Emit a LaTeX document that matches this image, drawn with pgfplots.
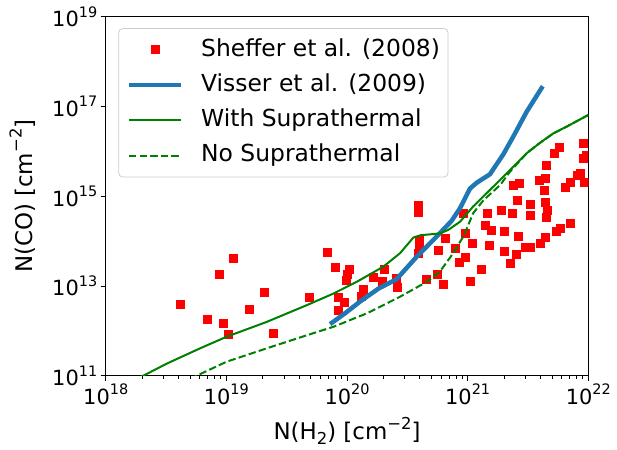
\documentclass[border=0pt]{standalone}
\usepackage{fontspec}
\setmainfont{DejaVu Sans}
\usepackage{pgfplots}
\pgfplotsset{compat=1.18}
\definecolor{mplblue}{HTML}{1F77B4}
\definecolor{mplgreen}{HTML}{008000}
\newcommand\tsup[1]{\raisebox{0.45em}{\fontsize{14.5}{15}\selectfont #1}}
\newcommand\lsup[1]{\raisebox{0.45em}{\fontsize{16.5}{17}\selectfont #1}}
\newcommand\lsub[1]{\raisebox{-0.2em}{\fontsize{16.5}{17}\selectfont #1}}
\pgfplotsset{
  lineleg/.style={legend image code/.code={\draw[##1] (0bp,0bp) -- (52bp,0bp);}},
  markleg/.style={legend image code/.code={\path (0bp,0bp) (52bp,0bp); \draw[##1, sharp corners] plot coordinates {(26bp,0bp)};}},
}
\begin{document}
\begin{tikzpicture}
\begin{axis}[
  name=ax,
  xmode=log, ymode=log,
  scale only axis, width=482.6bp, height=359bp,
  xmin=1e18, xmax=1e22, ymin=1e11, ymax=1e19,
  xtick={1e18,1e19,1e20,1e21,1e22},
  xticklabels={10\tsup{18},10\tsup{19},10\tsup{20},10\tsup{21},10\tsup{22}},
  minor xtick={2e18,3e18,4e18,5e18,6e18,7e18,8e18,9e18,
               2e19,3e19,4e19,5e19,6e19,7e19,8e19,9e19,
               2e20,3e20,4e20,5e20,6e20,7e20,8e20,9e20,
               2e21,3e21,4e21,5e21,6e21,7e21,8e21,9e21},
  ytick={1e11,1e13,1e15,1e17,1e19},
  yticklabels={10\tsup{11},10\tsup{13},10\tsup{15},10\tsup{17},10\tsup{19}},
  yminorticks=false,
  tick align=outside, tick pos=left,
  major tick length=5bp, minor tick length=3bp,
  every tick/.style={black, line width=0.8bp},
  axis line style={line width=0.9bp},
  ticklabel style={font=\fontsize{21}{25}\selectfont},
  label style={font=\fontsize{23}{27}\selectfont},
  xlabel={N(H\lsub{2}) [cm\lsup{−2}]},
  ylabel={N(CO) [cm\lsup{−2}]},
  xlabel style={at={(axis description cs:0.5,0)}, anchor=base, yshift=-64.3bp},
  ylabel style={at={(axis description cs:-0.1527,0.5)}, anchor=base},
  clip marker paths=true,
  legend cell align=left,
  legend style={
    at={(axis description cs:0.026,0.968)}, anchor=north west,
    draw=black!20, line width=0.8bp, rounded corners=4bp, fill=white,
    font=\fontsize{23.5}{28}\selectfont,
    inner xsep=8bp, inner ysep=10bp,
    nodes={inner sep=0bp, text height=17.5bp, text depth=5bp},
    row sep=12.8bp, column sep=18bp,
  },
]
\addplot[only marks, mark=square*, mark size=4bp, color=red, mark options={sharp corners}, markleg]
coordinates {
(4.16e18,3.89e12) (6.97e18,1.82e12) (8.75e18,1.82e13) (9.44e18,1.51e12)
(1.03e19,8.3e11) (1.14e19,4.07e13) (1.55e19,3.02e12) (2.04e19,7.24e12)
(2.45e19,8.7e11) (4.9e19,5.75e12) (6.87e19,5.75e13) (8.0e19,2.57e13)
(8.53e19,5.75e12) (9.55e19,4.27e12) (8.37e19,2.88e12) (1.01e20,1.82e13)
(1.05e20,2.34e13) (9.77e19,1.35e13) (1.35e20,8.5e12) (1.32e20,6.0e12)
(1.66e20,1.58e13) (2.04e20,2.34e13) (1.95e20,1.29e13) (2.57e20,1.48e13)
(2.63e20,9.3e12) (3.89e20,6.3e14) (3.89e20,4.47e14) (3.98e20,1.05e14)
(3.98e20,6.9e13) (3.89e20,5.4e13) (4.57e20,1.41e13) (5.75e20,6.3e13)
(5.62e20,1.82e13) (6.3e20,1.1e13) (6.46e20,1.15e14) (7.94e20,6.9e13)
(8.5e20,3.39e13) (9.1e20,4.17e14) (9.55e20,1.48e14) (9.55e20,4.47e13)
(1.05e21,1.29e13) (1.1e21,8.9e13) (1.29e21,2.34e13) (1.45e21,4.17e14)
(1.41e21,2.29e14) (1.51e21,8.1e13) (1.58e21,1.74e14) (1.91e21,4.9e14)
(2.0e21,1.7e14) (2.0e21,6.0e13) (2.24e21,3.16e13) (2.34e21,4.17e14)
(2.51e21,5.0e13) (2.57e21,8.1e14) (2.63e21,1.26e14) (2.4e21,1.78e15)
(2.69e21,1.95e15) (3.02e21,7.2e13) (3.31e21,6.6e14) (3.31e21,3.8e14)
(3.31e21,7.4e13) (3.98e21,8.9e13) (3.89e21,2.29e15) (4.27e21,1.38e15)
(4.37e21,2.51e15) (4.47e21,4.8e15) (4.37e21,7.4e14) (4.57e21,4.9e14)
(4.47e21,3.47e14) (4.37e21,1.2e14) (5.37e21,1.62e14) (5.89e21,1.9e14)
(5.25e21,9.3e15) (5.75e21,1.26e16) (6.46e21,1.55e15) (7.08e21,2.0e15)
(7.08e21,2.45e14) (8.13e21,2.95e15) (8.5e21,3.24e15) (9.1e21,1.51e16)
(9.1e21,6.9e15) (9.3e21,2.0e15) (9.55e21,8.3e15)
};
\addlegendentry{Sheffer et al. (2008)}
\addplot[mplblue, line width=4.5bp, line join=round, lineleg]
coordinates {
(7.23e19,1.41e12) (9.62e19,2.45e12) (1.28e20,4.47e12) (1.82e20,8.7e12)
(2.57e20,1.41e13) (3.78e20,4.47e13) (5.53e20,1.26e14) (7.36e20,2.82e14)
(8.63e20,5.37e14) (1.045e21,1.48e15) (1.19e21,2.0e15) (1.53e21,3.09e15)
(1.98e21,8.7e15) (2.39e21,2.14e16) (3.08e21,7.6e16) (4.19e21,2.82e17)
};
\addlegendentry{Visser et al. (2009)}
\addplot[mplgreen, line width=2bp, lineleg]
coordinates {
(1.78e18,8.5e10) (2.05e18,1.0e11) (3.21e18,1.86e11) (6.05e18,4.07e11) (1.007e19,7.4e11)
(2.16e19,1.58e12) (4.63e19,3.72e12) (7.71e19,6.76e12) (1.2e20,1.23e13)
(2.0e20,2.69e13) (2.75e20,5.37e13) (3.55e20,1.2e14) (4.07e20,1.35e14)
(5.89e20,1.48e14) (6.92e20,1.78e14) (8.63e20,2.69e14) (1.11e21,5.89e14)
(1.53e21,1.38e15) (2.24e21,3.8e15) (3.09e21,9.1e15) (3.98e21,1.55e16)
(5.13e21,2.51e16) (6.61e21,3.55e16) (1.0e22,6.46e16)
};
\addlegendentry{With Suprathermal}
\addplot[mplgreen, line width=2bp, dash pattern=on 7.4bp off 3.2bp, lineleg]
coordinates {
(5.0e18,8.5e10) (5.68e18,1.0e11) (1.0e19,2.04e11) (2.16e19,4.07e11) (4.63e19,7.94e11)
(7.71e19,1.23e12) (1.46e20,2.45e12) (2.75e20,5.75e12) (4.57e20,1.23e13)
(5.89e20,2.09e13) (7.59e20,5.37e13) (9.33e20,1.35e14) (1.11e21,4.17e14)
(1.35e21,8.1e14) (1.86e21,1.78e15) (2.24e21,3.5e15) (3.09e21,9.1e15)
(3.98e21,1.55e16) (5.13e21,2.51e16) (6.61e21,3.55e16) (1.0e22,6.46e16)
};
\addlegendentry{No Suprathermal}
\end{axis}
\pgfresetboundingbox
\path ([xshift=-105.7bp,yshift=-74.3bp]ax.south west) rectangle ([xshift=28.7bp,yshift=16.7bp]ax.north east);
\end{tikzpicture}
\end{document}
